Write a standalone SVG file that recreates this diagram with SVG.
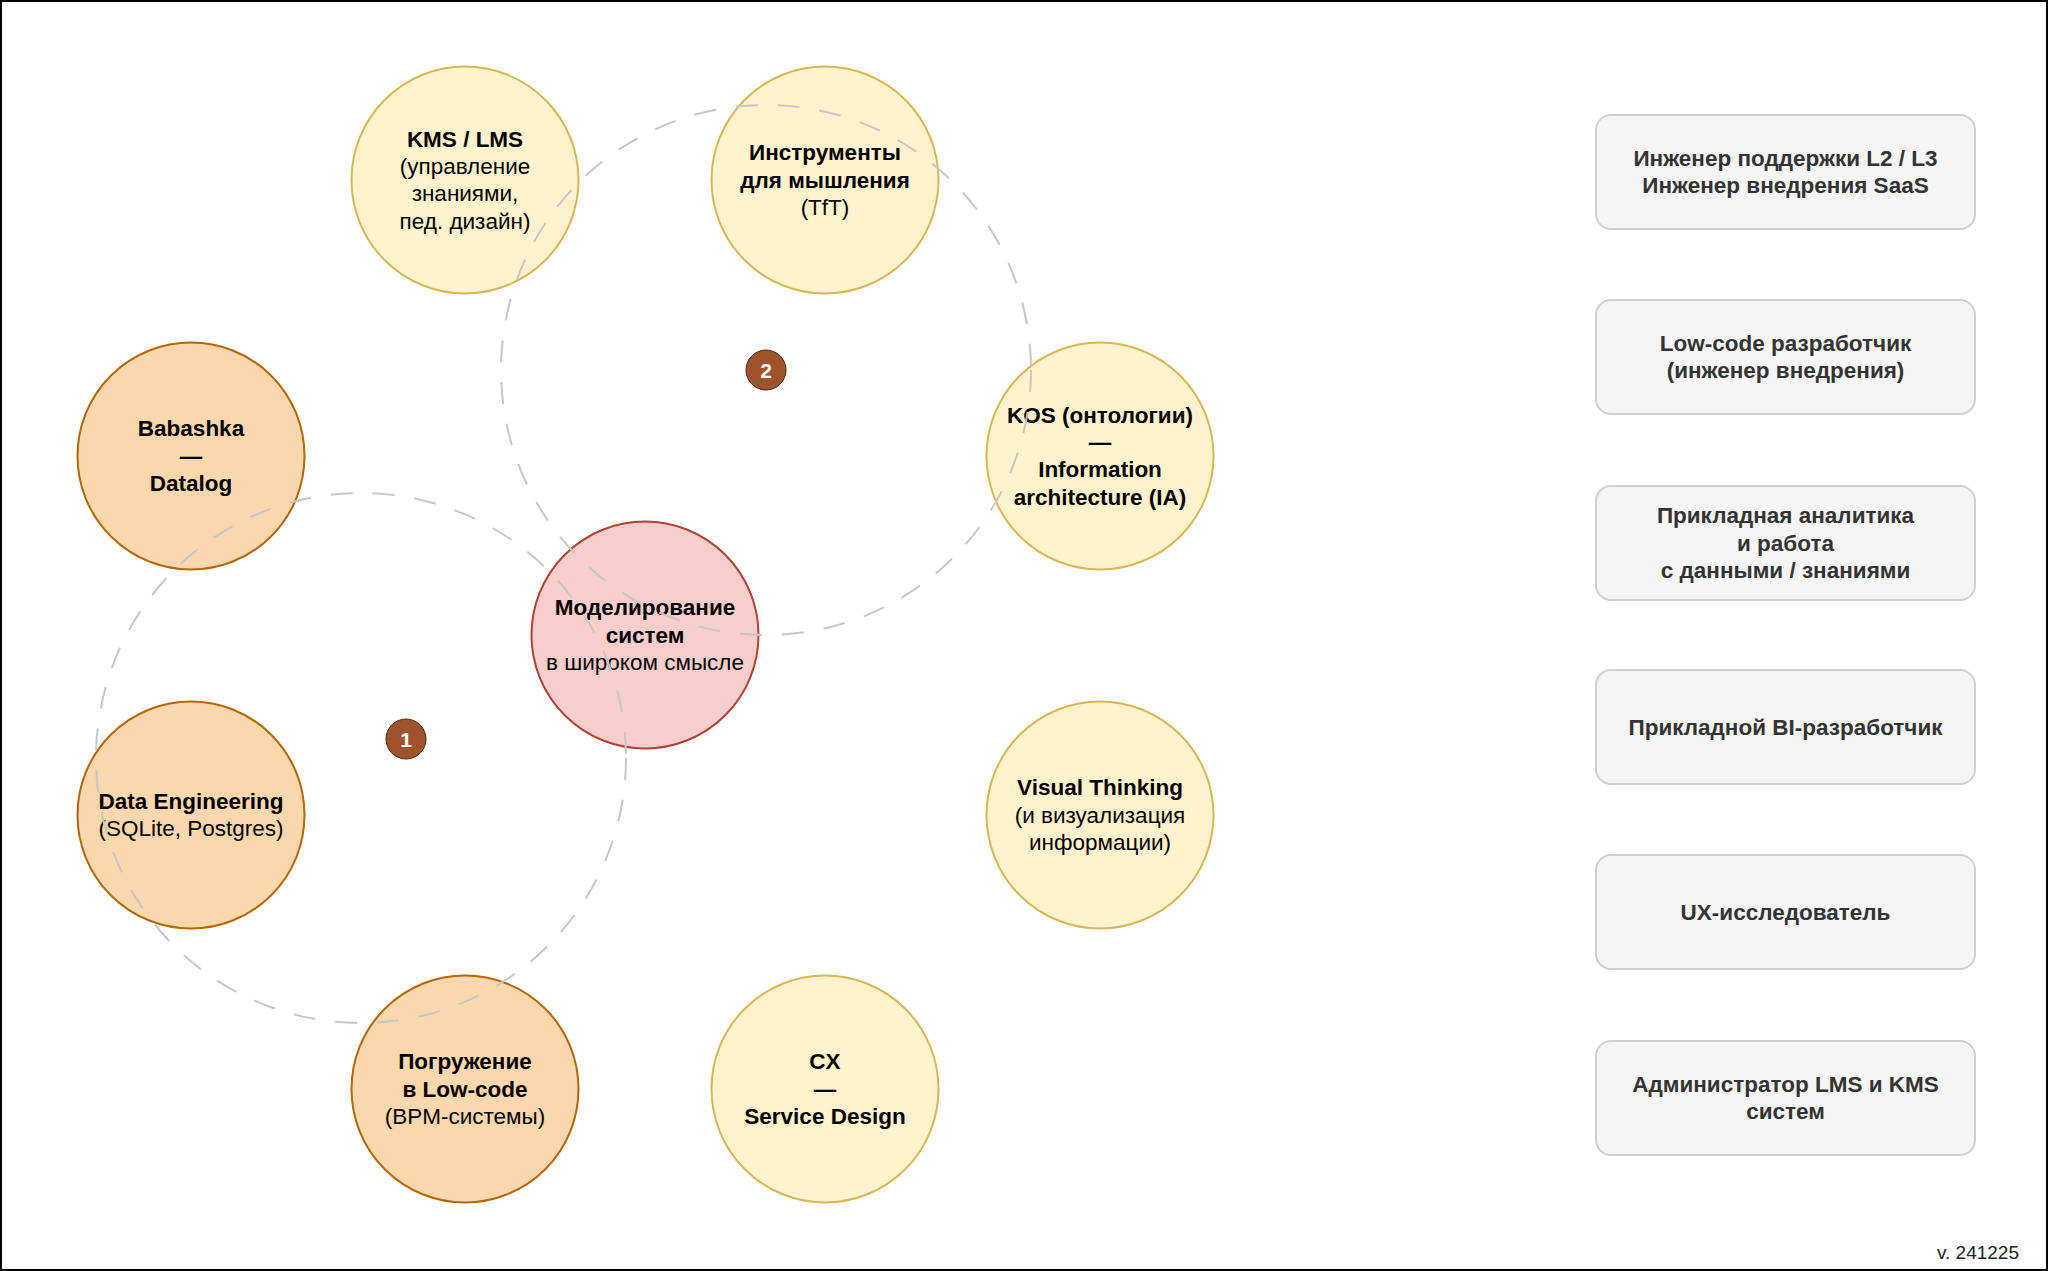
<svg xmlns="http://www.w3.org/2000/svg" width="2048" height="1271" viewBox="0 0 2048 1271">
<style>
text{font-family:"Liberation Sans",Arial,Helvetica,sans-serif;font-size:22.5px;text-anchor:middle;fill:#000;stroke:none}
.b{font-weight:bold}
.or{fill:#fad7ac;stroke:#b46504;stroke-width:2}
.ye{fill:#fff2cc;stroke:#d6b656;stroke-width:2}
.pk{fill:#f8cecc;stroke:#ae4132;stroke-width:2}
.box{fill:#f5f5f5;stroke:#cfcfcf;stroke-width:2}
.bt{fill:#333;font-weight:bold}
.ring{fill:none;stroke:#c6c6c6;stroke-width:2;stroke-dasharray:22 20}
.badge{fill:#a0522d;stroke:#4a2a1a;stroke-width:1}
.nt{fill:#fff;font-weight:bold;font-size:21px}
</style>
<rect x="1" y="1" width="2046" height="1269" fill="#fff" stroke="#000" stroke-width="2"/>

<g id="node-kms">
<circle class="ye" cx="465" cy="180" r="113.5"/>
<text x="465" y="146.5" class="b">KMS / LMS</text>
<text x="465" y="173.9">(управление</text>
<text x="465" y="201.3">знаниями,</text>
<text x="465" y="228.7">пед. дизайн)</text>
</g>
<g id="node-tft">
<circle class="ye" cx="825" cy="180" r="113.5"/>
<text x="825" y="160.2" class="b">Инструменты</text>
<text x="825" y="187.6" class="b">для мышления</text>
<text x="825" y="215">(TfT)</text>
</g>
<g id="node-babashka">
<circle class="or" cx="191" cy="456" r="113.5"/>
<text x="191" y="436.2" class="b">Babashka</text>
<text x="191" y="463.6" class="b">—</text>
<text x="191" y="491" class="b">Datalog</text>
</g>
<g id="node-kos">
<circle class="ye" cx="1100" cy="456" r="113.5"/>
<text x="1100" y="422.5" class="b">KOS (онтологии)</text>
<text x="1100" y="449.9" class="b">—</text>
<text x="1100" y="477.3" class="b">Information</text>
<text x="1100" y="504.7" class="b">architecture (IA)</text>
</g>
<g id="node-modeling">
<circle class="pk" cx="645" cy="635" r="113.5"/>
<text x="645" y="615.2" class="b">Моделирование</text>
<text x="645" y="642.6" class="b">систем</text>
<text x="645" y="670">в широком смысле</text>
</g>
<g id="node-data">
<circle class="or" cx="191" cy="815" r="113.5"/>
<text x="191" y="808.9" class="b">Data Engineering</text>
<text x="191" y="836.3">(SQLite, Postgres)</text>
</g>
<g id="node-visual">
<circle class="ye" cx="1100" cy="815" r="113.5"/>
<text x="1100" y="795.2" class="b">Visual Thinking</text>
<text x="1100" y="822.6">(и визуализация</text>
<text x="1100" y="850">информации)</text>
</g>
<g id="node-lowcode">
<circle class="or" cx="465" cy="1089" r="113.5"/>
<text x="465" y="1069.2" class="b">Погружение</text>
<text x="465" y="1096.6" class="b">в Low-code</text>
<text x="465" y="1124">(BPM-системы)</text>
</g>
<g id="node-cx">
<circle class="ye" cx="825" cy="1089" r="113.5"/>
<text x="825" y="1069.2" class="b">CX</text>
<text x="825" y="1096.6" class="b">—</text>
<text x="825" y="1124" class="b">Service Design</text>
</g>

<g id="connectors">
<circle class="ring" cx="361" cy="758" r="265"/>
<circle class="ring" cx="766" cy="370" r="265"/>
</g>

<g id="badge-1">
<circle class="badge" cx="406" cy="739" r="20"/>
<text class="nt" x="406" y="746.5">1</text>
</g>
<g id="badge-2">
<circle class="badge" cx="766" cy="370" r="20"/>
<text class="nt" x="766" y="377.5">2</text>
</g>

<g id="role-1">
<rect class="box" x="1596" y="115" width="379" height="114" rx="15"/>
<text class="bt" x="1785.5" y="165.9">Инженер поддержки L2 / L3</text>
<text class="bt" x="1785.5" y="193.3">Инженер внедрения SaaS</text>
</g>
<g id="role-2">
<rect class="box" x="1596" y="300" width="379" height="114" rx="15"/>
<text class="bt" x="1785.5" y="350.9">Low-code разработчик</text>
<text class="bt" x="1785.5" y="378.3">(инженер внедрения)</text>
</g>
<g id="role-3">
<rect class="box" x="1596" y="486" width="379" height="114" rx="15"/>
<text class="bt" x="1785.5" y="523.2">Прикладная аналитика</text>
<text class="bt" x="1785.5" y="550.6">и работа</text>
<text class="bt" x="1785.5" y="578">с данными / знаниями</text>
</g>
<g id="role-4">
<rect class="box" x="1596" y="670" width="379" height="114" rx="15"/>
<text class="bt" x="1785.5" y="734.6">Прикладной BI-разработчик</text>
</g>
<g id="role-5">
<rect class="box" x="1596" y="855" width="379" height="114" rx="15"/>
<text class="bt" x="1785.5" y="919.6">UX-исследователь</text>
</g>
<g id="role-6">
<rect class="box" x="1596" y="1041" width="379" height="114" rx="15"/>
<text class="bt" x="1785.5" y="1091.9">Администратор LMS и KMS</text>
<text class="bt" x="1785.5" y="1119.3">систем</text>
</g>

<text x="2019" y="1259" style="text-anchor:end;font-size:19px;fill:#222">v. 241225</text>
</svg>
